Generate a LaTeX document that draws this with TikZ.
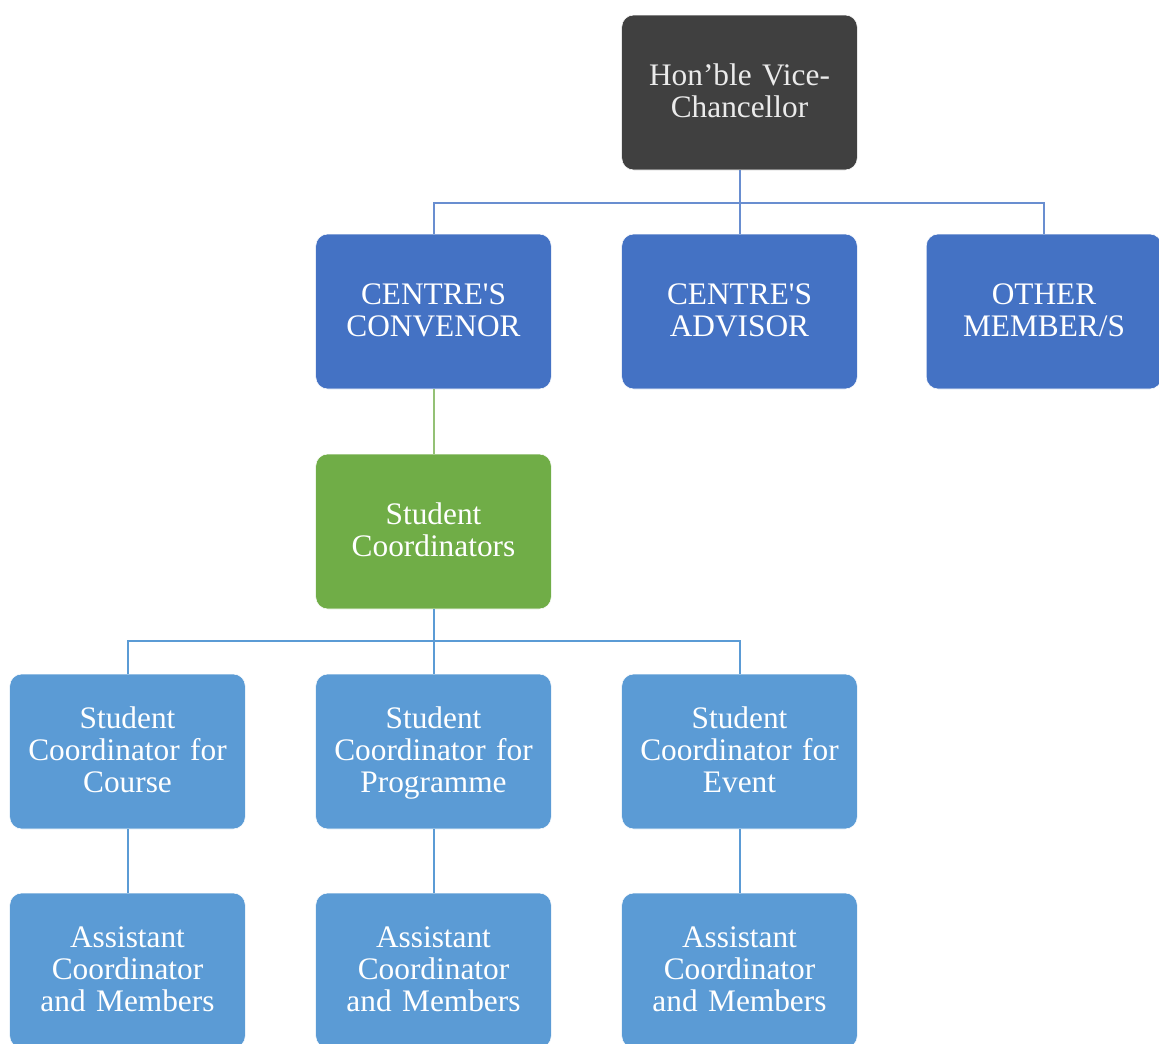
\documentclass[tikz,border=0pt]{standalone}
\usepackage{xcolor}
\usepackage{fontspec}
\setmainfont{Liberation Serif}
\usepackage{tikz}

\definecolor{vcgray}{HTML}{404040}
\definecolor{headblue}{HTML}{4472C4}
\definecolor{stugreen}{HTML}{70AD47}
\definecolor{subblue}{HTML}{5B9BD5}

\begin{document}
\begin{tikzpicture}[x=0.75pt,y=-0.75pt]
			\tikzstyle{box} = [rounded corners=9pt, draw=white, line width=0.4pt, minimum width=174.75pt, minimum height=116.25pt, text width=170pt, align=center, text=white, font=\fontsize{23.5}{24}\selectfont, execute at begin node={\rule{0pt}{21.3pt}}, execute at end node=\strut]
			\tikzstyle{chief} = [box, fill=vcgray, text=white!92!black]
			\tikzstyle{member} = [box, fill=headblue]
			\tikzstyle{student} = [box, fill=stugreen]
			\tikzstyle{wing} = [box, fill=subblue]
			\tikzset{link/.style = {-, line width=1.5pt}}

			\useasboundingbox (0,0) rectangle (1159,1043);

			\node[chief](vc) at (739.5,92.5) {Hon'ble Vice-\\Chancellor};

			\node[member](convenor) at (433.5,311.5) {CENTRE\textquotesingle S\\CONVENOR};
			\node[member](advisor) at (739.5,311.5) {CENTRE\textquotesingle S\\ADVISOR};
			\node[member](other) at (1044,311.5) {OTHER\\MEMBER/S};

			\node[student](stud) at (433.5,531.5) {Student\\Coordinators};

			\node[wing](course) at (127.5,751.5) {Student\\Coordinator for\\Course};
			\node[wing](programme) at (433.5,751.5) {Student\\Coordinator for\\Programme};
			\node[wing](event) at (739.5,751.5) {Student\\Coordinator for\\Event};

			\node[wing](asst1) at (127.5,970.5) {Assistant\\Coordinator\\and Members};
			\node[wing](asst2) at (433.5,970.5) {Assistant\\Coordinator\\and Members};
			\node[wing](asst3) at (739.5,970.5) {Assistant\\Coordinator\\and Members};

			\draw[link, draw=headblue!80!white](vc.south) -- ++(0,33) -| (convenor.north);
			\draw[link, draw=headblue!80!white](vc.south) -- (advisor.north);
			\draw[link, draw=headblue!80!white](vc.south) -- ++(0,33) -| (other.north);

			\draw[link, draw=stugreen!75!white](convenor) to (stud);

			\draw[link, draw=subblue](stud.south) -- ++(0,32) -| (course.north);
			\draw[link, draw=subblue](stud.south) -- (programme.north);
			\draw[link, draw=subblue](stud.south) -- ++(0,32) -| (event.north);

			\draw[link, draw=subblue](course) to (asst1);
			\draw[link, draw=subblue](programme) to (asst2);
			\draw[link, draw=subblue](event) to (asst3);
\end{tikzpicture}
\end{document}
